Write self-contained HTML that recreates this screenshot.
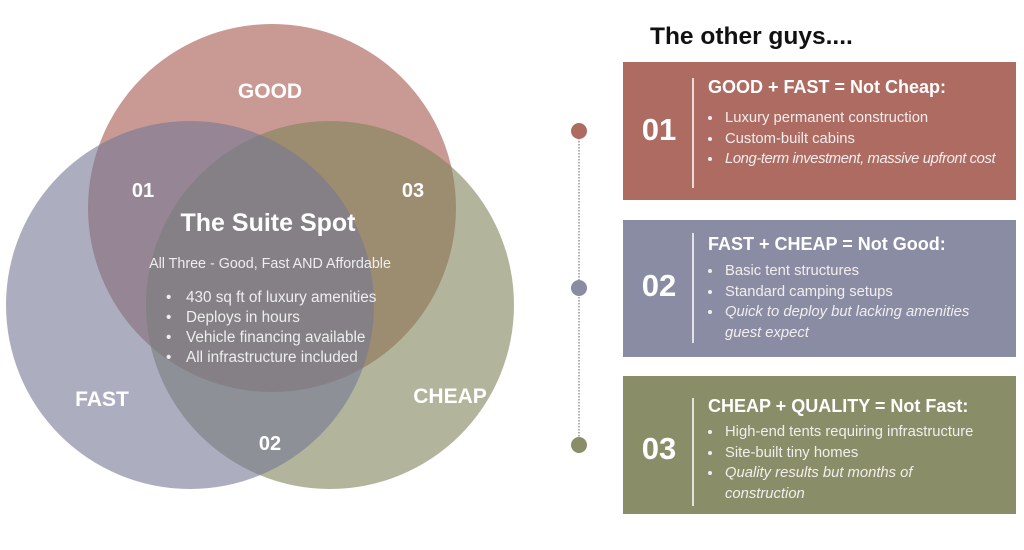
<!DOCTYPE html>
<html><head><meta charset="utf-8"><style>
body{margin:0;width:1024px;height:550px;background:#fff;position:relative;overflow:hidden;font-family:"Liberation Sans","DejaVu Sans",sans-serif}
.box{position:absolute;left:623px;width:393px;color:#fff;overflow:hidden}
.num{position:absolute;left:0;width:72px;text-align:center;font-weight:bold;font-size:31px}
.vl{position:absolute;left:69px;width:2px;background:rgba(255,255,255,.75)}
.t{position:absolute;left:85px;font-weight:bold;font-size:18px;white-space:nowrap}
ul{position:absolute;left:84px;margin:0;padding:0 0 0 16px;font-size:14.8px;line-height:20.5px;width:290px;color:#f2eeee}
li{padding-left:2px}
</style></head><body>
<svg width="540" height="550" style="position:absolute;left:0;top:0">
<circle cx="272" cy="208" r="184" fill="rgb(165,85,77)" fill-opacity=".6"/>
<circle cx="330" cy="305" r="184" fill="rgb(127,132,88)" fill-opacity=".6"/>
<circle cx="190" cy="305" r="184" fill="rgb(117,120,148)" fill-opacity=".6"/>
<g fill="#fff" font-family="Liberation Sans, sans-serif" font-weight="bold" text-anchor="middle">
<text x="270" y="98" font-size="21">GOOD</text>
<text x="102" y="406" font-size="21">FAST</text>
<text x="450" y="403" font-size="21">CHEAP</text>
<text x="143" y="197" font-size="20">01</text>
<text x="413" y="197" font-size="20">03</text>
<text x="270" y="450" font-size="20">02</text>
<text x="268" y="231" font-size="25">The Suite Spot</text>
</g>
<text x="270" y="268" fill="#eee" font-size="14.3" text-anchor="middle" font-family="Liberation Sans, sans-serif">All Three - Good, Fast AND Affordable</text>
<g fill="#eee" font-size="15.3" font-family="Liberation Sans, sans-serif">
<text x="166" y="302">•</text><text x="186" y="302">430 sq ft of luxury amenities</text>
<text x="166" y="322">•</text><text x="186" y="322">Deploys in hours</text>
<text x="166" y="342">•</text><text x="186" y="342">Vehicle financing available</text>
<text x="166" y="362">•</text><text x="186" y="362">All infrastructure included</text>
</g>
</svg>
<svg width="1024" height="550" style="position:absolute;left:0;top:0">
<line x1="579" y1="135" x2="579" y2="445" stroke="#777" stroke-width="1.2" stroke-dasharray="1.5,1.5"/>
<circle cx="579" cy="131" r="8" fill="#ae6b62"/>
<circle cx="579" cy="288" r="8" fill="#8a8ca3"/>
<circle cx="579" cy="445" r="8" fill="#8a8e68"/>
</svg>
<div style="position:absolute;left:650px;top:23px;font-weight:bold;font-size:24.5px;color:#111">The other guys....</div>
<div class="box" style="top:62px;height:138px;background:#ae6b62">
<div class="num" style="top:50px">01</div><div class="vl" style="top:16px;height:110px"></div>
<div class="t" style="top:15px">GOOD + FAST = Not Cheap:</div>
<ul style="top:46px"><li>Luxury permanent construction</li><li>Custom-built cabins</li><li style="white-space:nowrap;letter-spacing:-0.4px"><i>Long-term investment, massive upfront cost</i></li></ul></div>
<div class="box" style="top:220px;height:137px;background:#8a8ca3">
<div class="num" style="top:48px">02</div><div class="vl" style="top:13px;height:110px"></div>
<div class="t" style="top:14px">FAST + CHEAP = Not Good:</div>
<ul style="top:41px;width:272px"><li>Basic tent structures</li><li>Standard camping setups</li><li><i>Quick to deploy but lacking amenities guest expect</i></li></ul></div>
<div class="box" style="top:376px;height:138px;background:#8a8e68">
<div class="num" style="top:55px">03</div><div class="vl" style="top:22px;height:108px"></div>
<div class="t" style="top:20px">CHEAP + QUALITY = Not Fast:</div>
<ul style="top:46px;width:270px"><li style="white-space:nowrap">High-end tents requiring infrastructure</li><li>Site-built tiny homes</li><li><i>Quality results but months of construction</i></li></ul></div>
</body></html>
